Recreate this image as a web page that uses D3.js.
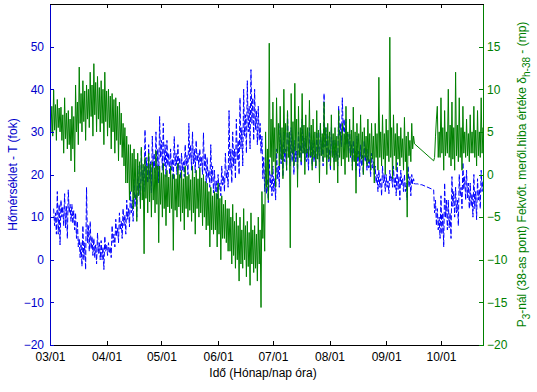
<!DOCTYPE html>
<html><head><meta charset="utf-8">
<script src="https://cdn.jsdelivr.net/npm/d3@7"></script>
<style>
body{margin:0;background:#fff}
svg{display:block}
text{font-family:Arial,"Liberation Sans",Helvetica,sans-serif}
</style>
</head><body>
<svg id="chart" width="537" height="392"></svg>
<script>
// ---------- data ----------
const xTickLabels = ["03/01","04/01","05/01","06/01","07/01","08/01","09/01","10/01"];
const leftTicks = [-20,-10,0,10,20,30,40,50];
const rightTicks = [-20,-15,-10,-5,0,5,10,15];
const totalDays = 237;                  // 03/01 .. ~10/24
const sampleDays = d3.range(0, 237, 2); // every 2nd day, 119 samples

// green (right axis): per sample: spike high (A), core high (C), core low (D), spike low (B)
const greenA = [
  8.5, 9.9, 8.8, 7.9, 9.0, 7.5, 8.0, 10.5, 12.6, 11.0,
  10.5, 12.0, 13.0, 11.5, 11.0, 12.0, 10.0, 9.5, 9.0, 8.5,
  6.0, 4.5, 3.5, 3.0, 2.5, 3.2, 2.0, 2.5, 1.5, 2.8,
  1.0, 1.3, 0.5, 1.0, 0.0, 1.3, 0.5, 1.0, 0.0, 1.0,
  0.5, 0.8, 0.0, -1.0, -1.5, -2.0, -1.0, -2.5, -3.0, -4.0,
  -3.5, -4.5, -5.0, -4.0, -5.5, -4.5, -6.0, -5.0, -2.0, 5.0,
  15.4, 8.5, 9.0, 8.0, 10.0, 7.5, 9.5, 10.7, 8.0, 9.5,
  7.0, 8.7, 6.5, 7.5, 6.0, 8.5, 6.0, 7.0, 5.5, 7.5,
  6.0, 8.0, 6.5, 7.9, 6.0, 7.0, 5.5, 6.5, 6.0, 6.0,
  11.4, 7.0, 6.5, 16.1, 7.0, 6.0, 5.5, 6.7, 5.0, 6.0,
  null, null, null, null, null, 1.6, 8.0, 9.0, 7.5, 10.0,
  8.5, 12.0, 9.0, 8.0, 6.5, 7.0, 8.0, 7.5, 9.0
];
const greenC = [
  8.0, 8.2, 7.8, 7.0, 7.2, 6.5, 6.8, 8.5, 9.5, 9.8,
  10.0, 10.5, 10.8, 10.2, 10.0, 9.8, 9.2, 8.8, 8.0, 7.2,
  5.5, 3.5, 2.5, 1.8, 1.5, 1.2, 1.0, 1.2, 0.8, 1.0,
  0.2, 0.0, -0.3, 0.0, -0.5, 0.0, -0.5, -0.2, -0.6, -0.3,
  -0.5, -0.4, -0.8, -2.0, -2.5, -2.2, -2.8, -3.5, -4.0, -5.0,
  -5.5, -6.0, -6.5, -6.0, -6.8, -6.5, -7.0, -6.5, -3.5, 3.0,
  6.5, 5.5, 6.0, 5.5, 6.0, 5.0, 6.2, 6.5, 5.5, 5.8,
  5.5, 5.8, 5.0, 5.2, 4.8, 5.5, 5.0, 4.8, 4.5, 5.0,
  4.8, 5.0, 5.2, 5.0, 4.8, 5.0, 4.5, 4.8, 4.5, 4.8,
  5.0, 4.8, 5.2, 5.5, 4.8, 4.5, 4.2, 4.5, 4.0, 4.5,
  null, null, null, null, null, 4.5, 5.0, 5.5, 5.0, 5.8,
  5.5, 5.8, 5.5, 5.0, 4.8, 5.0, 5.2, 5.0, 5.5
];
const greenD = [
  5.0, 5.2, 5.5, 4.0, 4.2, 3.5, 3.0, 5.0, 6.0, 6.2,
  6.5, 6.8, 7.0, 6.5, 6.0, 6.2, 5.5, 5.0, 4.0, 3.5,
  1.0, -1.0, -2.0, -2.8, -2.5, -3.0, -2.8, -3.2, -3.0, -3.5,
  -3.5, -4.0, -3.8, -4.0, -4.2, -3.8, -4.5, -4.0, -4.2, -4.5,
  -4.0, -4.5, -5.0, -6.0, -6.5, -6.5, -7.0, -7.5, -8.0, -9.0,
  -9.5, -10.0, -10.5, -10.0, -10.8, -10.5, -11.0, -10.5, -7.5, -1.5,
  2.0, 1.5, 2.5, 1.8, 2.5, 2.0, 2.5, 2.8, 2.0, 2.5,
  2.5, 2.2, 2.0, 1.8, 2.2, 2.0, 1.8, 2.0, 1.5, 2.0,
  1.8, 2.0, 2.2, 1.5, 2.0, 1.8, 2.0, 1.5, 1.8, 2.0,
  2.0, 1.8, 2.2, 2.0, 2.2, 1.8, 2.0, 1.5, 2.2, 3.0,
  null, null, null, null, null, 2.0, 2.0, 2.5, 2.2, 2.0,
  1.8, 2.2, 2.0, 2.5, 2.2, 2.5, 2.0, 2.2, 2.5
];
const greenB = [
  4.5, 4.0, 5.0, 2.5, 3.0, 1.6, 0.3, 3.5, 5.0, 4.0,
  5.5, 4.5, 5.0, 5.0, 3.5, 4.5, 3.0, 2.5, 1.6, 2.0,
  -1.0, -3.0, -4.0, -5.5, -4.0, -9.3, -4.5, -5.0, -4.5, -8.0,
  -5.0, -6.0, -4.5, -8.9, -5.0, -5.5, -6.5, -5.0, -5.5, -7.0,
  -5.0, -6.0, -6.5, -8.5, -7.0, -8.5, -10.0, -7.5, -9.0, -10.5,
  -11.0, -12.5, -11.0, -12.0, -13.0, -11.5, -12.5, -15.6, -9.0, -3.0,
  0.0, -1.5, 1.0, -0.5, 0.5, -8.6, 1.0, -1.5, 1.5, 0.0,
  2.0, 0.5, 1.0, -1.0, 1.5, 0.0, 1.0, 0.5, -1.0, 1.0,
  0.0, 1.5, 0.5, -2.2, 1.5, 0.0, 1.0, 0.5, -1.0, 0.5,
  1.0, 0.0, 1.5, -0.5, 0.5, 1.0, 0.5, -5.0, 1.5, 3.6,
  null, null, null, null, null, 6.5, 2.0, 0.5, 2.5, 1.0,
  0.5, 1.5, 0.5, 2.0, 1.5, 2.5, 1.0, 2.0, 2.5
];
// blue: Hőmérséklet (left axis), same four readings per sample
const blueA = [
  null, 12.0, 16.0, 14.0, 15.5, 16.4, 13.0, 11.0, 5.0, 8.0,
  17.0, 9.0, 5.0, 6.3, 4.5, 5.5, 4.0, 8.0, 9.5, 11.0,
  12.0, 14.0, 16.0, 18.8, 22.0, 26.0, 30.5, 27.0, 29.0, 30.0,
  33.6, 32.0, 28.0, 26.0, 28.9, 27.0, 25.0, 27.0, 32.0, 30.0,
  28.0, 26.0, 29.8, 24.0, 27.0, 21.0, 20.0, 22.0, 25.0, 35.0,
  30.0, 33.0, 38.0, 40.0, 42.0, 44.6, 40.0, 36.0, 29.0, 22.0,
  23.5, 22.0, 26.0, 32.0, 30.0, 35.0, 31.0, 28.0, 30.0, 33.0,
  29.0, 31.0, 28.0, 30.0, 32.0, 39.0, 29.0, 31.0, 28.0, 36.0,
  38.0, 33.0, 30.5, 28.0, 29.0, 27.0, 28.0, 26.0, 25.0, 22.0,
  21.0, 22.0, 20.0, 21.0, 22.0, 22.8, 21.0, 20.0, 22.0, 20.0,
  17.8, 17.6, null, null, null, 16.4, 12.0, 15.0, 18.0, 14.0,
  19.5, 17.0, 20.0, 22.8, 21.0, 18.0, 20.0, 19.0, 21.0
];
const blueC = [
  null, 11.0, 13.0, 12.5, 12.5, 13.0, 11.5, 9.0, 4.0, 4.0,
  8.0, 5.5, 3.5, 4.0, 3.0, 3.5, 3.0, 6.0, 7.5, 9.0,
  10.5, 12.0, 14.0, 15.5, 18.0, 21.0, 24.0, 23.0, 25.0, 26.0,
  28.0, 27.0, 25.0, 23.5, 25.0, 24.0, 23.0, 24.5, 27.0, 26.0,
  25.0, 24.0, 25.0, 21.0, 22.0, 18.5, 18.0, 19.5, 21.0, 26.0,
  26.0, 28.0, 31.0, 34.0, 36.0, 38.0, 35.0, 32.0, 24.0, 19.0,
  20.0, 19.0, 22.0, 27.0, 26.0, 29.0, 27.0, 25.5, 27.0, 28.5,
  26.0, 27.5, 25.5, 27.0, 28.0, 31.0, 26.0, 28.0, 25.5, 32.0,
  33.0, 29.5, 27.0, 25.5, 25.5, 24.5, 25.0, 23.5, 23.0, 20.0,
  19.0, 20.0, 18.5, 19.5, 19.5, 19.5, 19.0, 18.0, 19.5, 19.0,
  17.8, 17.6, null, null, null, 14.0, 10.0, 11.0, 14.0, 11.0,
  16.0, 14.0, 17.0, 19.5, 18.0, 15.5, 16.0, 16.5, 18.5
];
const blueD = [
  null, 8.0, 6.0, 10.0, 7.5, 11.0, 8.5, 5.0, 0.5, 0.0,
  4.0, 2.5, 0.5, 1.5, 0.0, 2.0, 1.5, 4.0, 5.5, 7.0,
  8.0, 9.5, 11.0, 12.5, 15.5, 18.5, 20.5, 19.0, 21.5, 21.0,
  24.0, 22.0, 22.0, 21.0, 22.0, 21.0, 21.0, 22.0, 23.5, 22.5,
  23.0, 22.0, 21.0, 19.0, 18.0, 16.0, 16.5, 17.5, 19.0, 21.0,
  22.0, 23.5, 26.0, 29.0, 30.0, 32.0, 30.5, 28.0, 19.0, 15.5,
  17.0, 16.0, 19.0, 22.5, 23.0, 25.0, 23.0, 23.0, 24.0, 25.0,
  23.0, 24.0, 23.0, 25.0, 24.5, 26.5, 23.0, 25.0, 24.0, 29.0,
  30.0, 27.0, 24.0, 23.0, 22.0, 22.0, 23.0, 21.5, 21.5, 18.0,
  17.0, 18.0, 17.0, 18.5, 17.0, 16.5, 17.5, 16.0, 17.0, 17.8,
  17.8, 17.6, null, null, null, 11.0, 7.0, 6.0, 10.0, 7.5,
  12.5, 11.0, 15.0, 16.5, 14.5, 12.5, 12.0, 14.0, 16.0
];
const blueB = [
  null, 6.0, 3.5, 8.0, 5.0, 9.0, 7.0, 3.0, -1.5, -2.3,
  2.0, 1.0, -1.0, 0.0, -2.3, 1.0, 0.5, 3.0, 4.0, 5.0,
  6.0, 7.7, 9.0, 10.0, 13.0, 16.0, 18.0, 15.7, 19.0, 18.0,
  21.0, 19.5, 20.0, 18.8, 20.0, 19.0, 19.5, 20.0, 21.0, 20.4,
  21.5, 20.0, 18.0, 17.0, 15.7, 14.0, 15.0, 16.0, 17.0, 18.0,
  19.0, 20.0, 22.0, 25.0, 26.0, 28.0, 27.0, 25.0, 16.0, 13.4,
  15.0, 14.0, 17.0, 19.5, 21.0, 22.0, 20.0, 21.0, 22.0, 23.0,
  21.0, 22.0, 21.5, 23.0, 22.0, 24.0, 21.0, 23.0, 22.0, 26.5,
  27.0, 25.0, 22.0, 21.0, 19.5, 20.0, 21.0, 19.5, 20.0, 16.0,
  15.0, 16.0, 15.5, 17.0, 15.0, 14.0, 16.0, 14.0, 15.0, 17.8,
  17.8, 17.6, null, null, null, 8.0, 5.0, 3.0, 7.0, 5.0,
  10.0, 8.0, 12.0, 14.0, 12.0, 10.0, 9.4, 12.0, 14.0
];

// ---------- layout ----------
const L = 50, R = 483, T = 4, B = 345;
const blue = "#0000ff", green = "#008000";
const t0 = Date.UTC(2005, 2, 1);
const dayToDate = d => new Date(t0 + d * 864e5);
const parseTick = d3.utcParse("%Y/%m/%d");
const tickDates = xTickLabels.map(s => parseTick("2005/" + s));

const x = d3.scaleUtc().domain([dayToDate(0), dayToDate(totalDays)]).range([L, R]);
const yL = d3.scaleLinear().domain([-20, 60]).range([B, T]);
const yR = d3.scaleLinear().domain([-20, 20]).range([B, T]);

const svg = d3.select("#chart");
svg.append("defs").append("clipPath").attr("id", "clip")
  .append("rect").attr("x", L).attr("y", T).attr("width", R - L).attr("height", B - T);

// four readings per 2-day sample, in time order: A, D, C, B
function readings(a, c, d, b) {
  const pts = [];
  sampleDays.forEach((day, i) => {
    [[0, a], [0.5, d], [1, c], [1.5, b]].forEach(([off, arr]) => {
      if (arr[i] != null) pts.push([day + off, arr[i]]);
    });
  });
  return pts;
}

const plot = svg.append("g").attr("clip-path", "url(#clip)");
plot.append("path")
  .datum(readings(blueA, blueC, blueD, blueB))
  .attr("fill", "none").attr("stroke", blue).attr("stroke-width", 1)
  .attr("stroke-dasharray", "5,2")
  .attr("d", d3.line().x(p => x(dayToDate(p[0]))).y(p => yL(p[1])));
plot.append("path")
  .datum(readings(greenA, greenC, greenD, greenB))
  .attr("fill", "none").attr("stroke", green).attr("stroke-width", 1)
  .attr("d", d3.line().x(p => x(dayToDate(p[0]))).y(p => yR(p[1])));

// ---------- axes ----------
function style(g, color) {
  g.selectAll("path.domain").attr("stroke", color).attr("stroke-width", 1).attr("shape-rendering", "crispEdges");
  g.selectAll(".tick line").attr("stroke", color).attr("shape-rendering", "crispEdges");
  g.selectAll(".tick text").attr("fill", color).attr("font-size", 12)
    .attr("font-family", 'Arial,"Liberation Sans",Helvetica,sans-serif');
}

const fmt = d3.utcFormat("%m/%d");
svg.append("g").attr("transform", `translate(0,${B})`)
  .call(d3.axisBottom(x).tickValues(tickDates).tickFormat(fmt).tickSizeInner(-4).tickSizeOuter(0).tickPadding(7))
  .call(g => style(g, "#000"));
svg.append("g").attr("transform", `translate(0,${T})`)
  .call(d3.axisTop(x).tickValues(tickDates).tickFormat("").tickSizeInner(-4).tickSizeOuter(0))
  .call(g => style(g, "#000"));
svg.append("g").attr("transform", `translate(${L},0)`)
  .call(d3.axisLeft(yL).tickValues(leftTicks).tickFormat(d3.format("d")).tickSizeInner(-4).tickSizeOuter(0).tickPadding(6))
  .call(g => style(g, "#0000cc"));
svg.append("g").attr("transform", `translate(${R},0)`)
  .call(d3.axisRight(yR).tickValues(rightTicks).tickFormat(d3.format("d")).tickSizeInner(-4).tickSizeOuter(0).tickPadding(4))
  .call(g => style(g, green));

// ---------- labels ----------
svg.append("text").attr("x", 263).attr("y", 377).attr("text-anchor", "middle")
  .attr("font-size", 12).attr("fill", "#000").text("Idő (Hónap/nap óra)");

svg.append("text").attr("transform", `translate(16.5,${(T + B) / 2}) rotate(-90)`)
  .attr("text-anchor", "middle").attr("font-size", 12).attr("fill", "#0000cc")
  .text("Hőmérséklet - T (fok)");

const rl = svg.append("text").attr("transform", `translate(525.5,${(T + B) / 2}) rotate(-90)`)
  .attr("text-anchor", "middle").attr("font-size", 12).attr("fill", green);
rl.append("tspan").text("P");
rl.append("tspan").attr("dy", 4).attr("font-size", 10).text("3");
rl.append("tspan").attr("dy", -4).text("-nál (38-as pont) Fekvőt. meről.hiba értéke δ");
rl.append("tspan").attr("dy", 4).attr("font-size", 10).text("h-38");
rl.append("tspan").attr("dy", -4).text(" - (mp)");
</script>
</body></html>
